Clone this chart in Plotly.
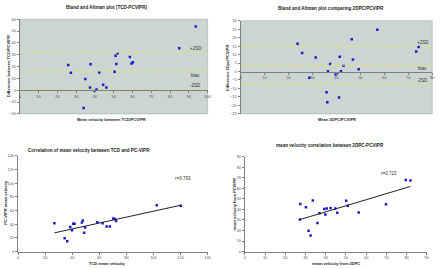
import numpy as np
import plotly.graph_objects as go

# ---------------- data ----------------
# Panel 1: Bland-Altman TCD vs PCVIPR
ba1_mean = [25.8, 27.2, 34.9, 37.4, 37.7, 34.0, 39.8, 40.9, 42.3, 44.4, 46.1, 50.5, 51.0, 51.4, 52.1, 58.6, 59.5, 60.2, 84.9, 93.7]
ba1_diff = [21.4, 14.7, 9.4, 2.4, 22.0, -15.0, -0.4, 0.7, 15.0, 4.6, 2.4, 15.5, 29.2, 22.2, 31.2, 28.1, 22.5, 23.6, 35.4, 53.8]
ba1_lines = [32.0, 16.4, 0.4]          # +2SD, bias, -2SD
ba1_labels = ["+2SD", "bias", "-2SD"]
ba1_label_y = [35.5, 12.5, 4.0]

# Panel 2: Bland-Altman 2DPC vs PCVIPR
ba2_mean = [23.8, 25.7, 31.4, 28.7, 35.9, 36.2, 36.5, 37.4, 39.7, 40.3, 41.1, 41.4, 41.9, 43.0, 46.4, 46.9, 49.3, 57.1, 73.3, 74.3]
ba2_diff = [16.4, 11.0, 8.3, -3.7, -12.2, -18.1, 0.2, 4.4, -1.8, -1.0, -15.3, 8.7, 0.2, 3.4, 19.1, 7.1, 1.3, 24.6, 11.8, 14.5]
ba2_lines = [15.0, 3.8, -7.2]
ba2_labels = ["+2SD", "bias", "-2SD"]
ba2_label_y = [17.3, 1.5, -5.3]

# Panel 3: correlation TCD vs PC-VIPR
c1_x = [26.8, 34.4, 36.3, 38.5, 39.8, 40.7, 41.7, 47.1, 47.8, 48.8, 49.5, 58.5, 62.4, 65.4, 67.8, 70.2, 71.5, 72.4, 102.4, 120.2]
c1_y = [41.6, 19.6, 15.3, 35.8, 31.1, 40.6, 40.6, 42.5, 45.4, 27.7, 35.4, 43.0, 41.6, 36.8, 36.8, 48.3, 47.8, 44.9, 67.8, 66.9]
c1_r = "r=0.793"

# Panel 4: correlation 2DPC vs PCVIPR
c2_x = [27.2, 27.4, 30.2, 31.5, 32.5, 33.6, 35.9, 36.9, 39.3, 39.8, 40.5, 42.4, 44.7, 45.7, 50.1, 50.9, 56.3, 69.8, 79.6, 81.9]
c2_y = [30.5, 45.2, 42.1, 19.9, 15.3, 48.6, 27.1, 36.4, 40.5, 35.2, 40.8, 41.4, 40.8, 36.8, 48.3, 43.6, 37.1, 44.9, 67.9, 67.6]
c2_r = "r=0.723"

titles = ["Bland and Altman plot (TCD-PCVIPR)",
          "Bland and Altman plot comparing 2DPC/PCVIPR",
          "Correlation of mean velocity between TCD and PC-VIPR",
          "mean velocity correlation between 2DPC-PCVIPR"]
xtitles = ["Mean velocity between TCD/PCVIPR", "Mean 2DPC/PCVIPR",
           "TCD mean velocity", "mean velocity from 2DPC"]
ytitles = ["Difference between TCD/PCVIPR", "Difference 2Dpc/PCVIPR",
           "PC-VIPR mean velocity", "mean velocity from PCVIPR"]

# ---------------- styling ----------------
W, H = 440, 269
FONT = "Liberation Sans"
PT = "#1c1ccc"
BG = "#cbd5d2"
YEL = "#e4e45a"
TICKC = "#555555"

def px(v):  # horizontal pixel -> paper
    return v / W

def py(v):  # vertical pixel (from top) -> paper
    return 1 - v / H

fig = go.Figure()

marker = dict(symbol="square", size=2.5, color=PT, line=dict(width=0))

# Panel 1
fig.add_trace(go.Scatter(x=ba1_mean, y=ba1_diff, mode="markers", marker=marker, xaxis="x", yaxis="y"))
for v in ba1_lines:
    fig.add_trace(go.Scatter(x=[0, 100], y=[v, v], mode="lines",
                             line=dict(color=YEL, width=1, dash="3px,3px"), xaxis="x", yaxis="y"))
# Panel 2
fig.add_trace(go.Scatter(x=ba2_mean, y=ba2_diff, mode="markers", marker=marker, xaxis="x2", yaxis="y2"))
for v in ba2_lines:
    fig.add_trace(go.Scatter(x=[0, 80], y=[v, v], mode="lines",
                             line=dict(color=YEL, width=1, dash="3px,3px"), xaxis="x2", yaxis="y2"))
# Panel 3
fig.add_trace(go.Scatter(x=c1_x, y=c1_y, mode="markers", marker=marker, xaxis="x3", yaxis="y3"))
k1, b1 = np.polyfit(c1_x, c1_y, 1)
xs1 = [min(c1_x), max(c1_x)]
fig.add_trace(go.Scatter(x=xs1, y=[k1 * x + b1 for x in xs1], mode="lines",
                         line=dict(color="#222222", width=1), xaxis="x3", yaxis="y3"))
# Panel 4
fig.add_trace(go.Scatter(x=c2_x, y=c2_y, mode="markers", marker=marker, xaxis="x4", yaxis="y4"))
k2, b2 = np.polyfit(c2_x, c2_y, 1)
xs2 = [min(c2_x), max(c2_x)]
fig.add_trace(go.Scatter(x=xs2, y=[k2 * x + b2 for x in xs2], mode="lines",
                         line=dict(color="#222222", width=1), xaxis="x4", yaxis="y4"))

tickfont = dict(family=FONT, size=4, color=TICKC)
common = dict(showgrid=False, zeroline=False, showline=True, linecolor="#808080", linewidth=1,
              ticks="outside", ticklen=2, tickcolor="#808080", tickfont=tickfont, fixedrange=True)

d1x = [px(19), px(209)]
d1y = [py(113), py(16.5)]
d2x = [px(242.3), px(436.2)]
d2y = [py(113), py(18)]
d3x = [px(17.3), px(209)]
d3y = [py(253.3), py(155.7)]
d4x = [px(246.7), px(430.7)]
d4y = [py(253.3), py(156.7)]

pos1 = d1y[0] + (0 - (-20)) / 80 * (d1y[1] - d1y[0])
pos2 = d2y[0] + (0 - (-25)) / 55 * (d2y[1] - d2y[0])

fig.update_layout(
    width=W, height=H, margin=dict(l=0, r=0, t=0, b=0),
    paper_bgcolor="white", plot_bgcolor="white", showlegend=False,
    xaxis=dict(common, domain=d1x, range=[0, 100], dtick=10, anchor="free", position=pos1),
    yaxis=dict(common, domain=d1y, range=[-20, 60], dtick=10, anchor="x"),
    xaxis2=dict(common, domain=d2x, range=[0, 80], dtick=10, anchor="free", position=pos2),
    yaxis2=dict(common, domain=d2y, range=[-25, 30], dtick=5, anchor="x2"),
    xaxis3=dict(common, domain=d3x, range=[0, 140], dtick=20, anchor="y3"),
    yaxis3=dict(common, domain=d3y, range=[0, 140], dtick=20, anchor="x3"),
    xaxis4=dict(common, domain=d4x, range=[0, 90], dtick=10, anchor="y4"),
    yaxis4=dict(common, domain=d4y, range=[0, 90], dtick=10, anchor="x4"),
)

# grey plot backgrounds for Bland-Altman panels
for dx, dy in [(d1x, d1y), (d2x, d2y)]:
    fig.add_shape(type="rect", xref="paper", yref="paper", x0=dx[0], x1=dx[1], y0=dy[0], y1=dy[1],
                  fillcolor=BG, line=dict(color="#9aa3a0", width=0.5), layer="below")

ann = []
tfont = dict(family=FONT, size=4.6, color="#222222")
# titles
for t, (x, y) in zip(titles, [(107, 5), (334, 6), (89, 150), (333, 145)]):
    ann.append(dict(text="<b>" + t + "</b>", x=px(x), y=py(y), xref="paper", yref="paper",
                    showarrow=False, font=tfont, xanchor="center", yanchor="middle"))
afont = dict(family=FONT, size=4, color="#222222")
for t, (x, y) in zip(xtitles, [(112, 119), (340, 119), (108, 265.5), (339, 265.5)]):
    ann.append(dict(text="<b>" + t + "</b>", x=px(x), y=py(y), xref="paper", yref="paper",
                    showarrow=False, font=afont, xanchor="center", yanchor="middle", borderpad=0))
for t, (x, y) in zip(ytitles, [(7, 64.5), (229, 66), (4.5, 203), (236, 205)]):
    ann.append(dict(text="<b>" + t + "</b>", x=px(x), y=py(y), xref="paper", yref="paper",
                    showarrow=False, font=afont, textangle=-90, xanchor="center", yanchor="middle"))
lfont = dict(family=FONT, size=4.5, color="#333333")
for t, y in zip(ba1_labels, ba1_label_y):
    ann.append(dict(text=t, x=93.7, y=y, xref="x", yref="y", showarrow=False, font=lfont))
for t, y in zip(ba2_labels, ba2_label_y):
    ann.append(dict(text=t, x=76.0, y=y, xref="x2", yref="y2", showarrow=False, font=lfont))
ann.append(dict(text=c1_r, x=122, y=107.5, xref="x3", yref="y3", showarrow=False, font=lfont))
ann.append(dict(text=c2_r, x=71.3, y=74, xref="x4", yref="y4", showarrow=False, font=lfont))
fig.update_layout(annotations=ann)

# remove the default page margin so the figure sits at the window's top-left corner
fig.write_html("out.html",
               config={"displayModeBar": False, "staticPlot": True},
               post_script="document.body.style.margin='0';document.body.style.overflow='hidden';")
